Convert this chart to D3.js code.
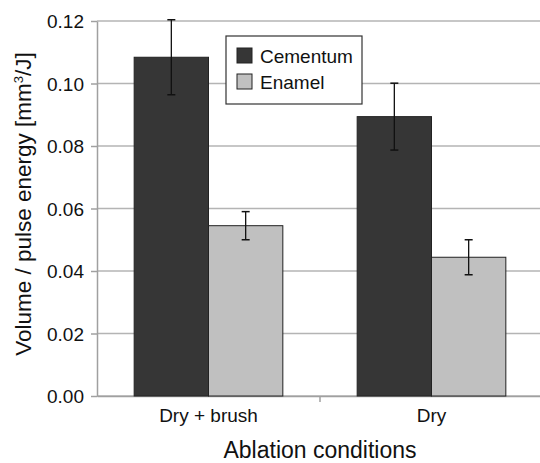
<!DOCTYPE html>
<html>
<head>
<meta charset="utf-8">
<script src="https://cdn.jsdelivr.net/npm/d3@7"></script>
<style>
  body { margin: 0; background: #fff; }
  text { font-family: "Liberation Sans", Arial, sans-serif; fill: #111; }
</style>
</head>
<body>
<div id="canvas"></div>
<script>
const conditions = ["Dry + brush", "Dry"];
const seriesNames = ["Cementum", "Enamel"];
const cementum = [0.1084, 0.0894];
const cementumErr = [0.0120, 0.0107];
const enamel = [0.0545, 0.0444];
const enamelErr = [0.0045, 0.0056];
const yTicks = [0, 0.02, 0.04, 0.06, 0.08, 0.10, 0.12];
const colors = ["#363636", "#c0c0c0"];

const width = 540, height = 463;
const margin = { top: 21, left: 97, bottom: 67, right: -3 };
const iwidth = width - margin.left - margin.right;
const iheight = height - margin.top - margin.bottom;

const svg = d3.select("#canvas").append("svg")
    .attr("width", width)
    .attr("height", height);

const g = svg.append("g").attr("transform", `translate(${margin.left},${margin.top})`);

const y = d3.scaleLinear().domain([0, 0.12]).range([iheight, 0]);
const x = d3.scaleBand().domain(conditions).range([0, iwidth]).paddingInner(0).paddingOuter(0);
const xs = d3.scaleBand().domain(seriesNames).range([x.bandwidth() / 6, x.bandwidth() * 5 / 6]);

// gridlines
g.selectAll(".grid").data(yTicks).enter().append("line")
    .attr("x1", 0).attr("x2", iwidth)
    .attr("y1", d => y(d)).attr("y2", d => y(d))
    .attr("stroke", "#b4b4b4").attr("stroke-width", 1.5);

// y axis
const yAxis = g.append("g")
    .call(d3.axisLeft(y).tickValues(yTicks).tickFormat(d3.format(".2f")).tickSize(6).tickSizeOuter(0))
    .attr("font-size", null).attr("font-family", null);
yAxis.select(".domain").attr("stroke", "#a0a0a0").attr("stroke-width", 1.5);
yAxis.selectAll(".tick line").attr("stroke", "#a0a0a0").attr("stroke-width", 1.5);
yAxis.selectAll(".tick text").attr("x", -13).attr("dy", "0.35em")
    .style("font-size", "19px").attr("fill", "#111");

// x axis
const xAxis = g.append("g").attr("transform", `translate(0,${iheight})`)
    .call(d3.axisBottom(x).tickSize(0).tickSizeOuter(0))
    .attr("font-size", null).attr("font-family", null);
xAxis.select(".domain").attr("stroke", "#a0a0a0").attr("stroke-width", 1.5);
xAxis.selectAll(".tick text").attr("dy", 0).attr("y", 26)
    .style("font-size", "19px").attr("fill", "#111");
g.selectAll(".xsep").data(conditions.slice(1)).enter().append("line")
    .attr("x1", d => x(d)).attr("x2", d => x(d))
    .attr("y1", iheight).attr("y2", iheight + 6)
    .attr("stroke", "#a0a0a0").attr("stroke-width", 1.5);

const rows = conditions.map((c, i) => [
    { cond: c, s: seriesNames[0], v: cementum[i], e: cementumErr[i], col: colors[0] },
    { cond: c, s: seriesNames[1], v: enamel[i], e: enamelErr[i], col: colors[1] }
]).flat();

g.selectAll("rect.bar").data(rows).enter().append("rect")
    .attr("class", "bar")
    .attr("x", d => x(d.cond) + xs(d.s))
    .attr("y", d => y(d.v))
    .attr("width", xs.bandwidth())
    .attr("height", d => iheight - y(d.v))
    .attr("fill", d => d.col)
    .attr("stroke", "#222").attr("stroke-width", 1);

// error bars
const eb = g.selectAll("g.err").data(rows).enter().append("g")
    .attr("transform", d => `translate(${x(d.cond) + xs(d.s) + xs.bandwidth() / 2},0)`);
eb.append("line").attr("y1", d => y(d.v + d.e)).attr("y2", d => y(d.v - d.e))
    .attr("stroke", "#111").attr("stroke-width", 1.3);
eb.append("line").attr("x1", -4).attr("x2", 4).attr("y1", d => y(d.v + d.e)).attr("y2", d => y(d.v + d.e))
    .attr("stroke", "#111").attr("stroke-width", 1.5);
eb.append("line").attr("x1", -4).attr("x2", 4).attr("y1", d => y(d.v - d.e)).attr("y2", d => y(d.v - d.e))
    .attr("stroke", "#111").attr("stroke-width", 1.5);

// legend
const lg = svg.append("g").attr("transform", "translate(226,36)");
lg.append("rect").attr("width", 136).attr("height", 68)
    .attr("fill", "#fff").attr("stroke", "#333").attr("stroke-width", 1.2);
seriesNames.forEach((s, i) => {
    lg.append("rect").attr("x", 11).attr("y", 12 + i * 26).attr("width", 15).attr("height", 15)
        .attr("fill", colors[i]).attr("stroke", "#222");
    lg.append("text").attr("x", 34).attr("y", 27 + i * 26).style("font-size", "19px").text(s);
});

// axis titles
svg.append("text")
    .attr("transform", `translate(31,204) rotate(-90)`)
    .attr("text-anchor", "middle").style("font-size", "22.5px")
    .html('Volume / pulse energy [mm<tspan dy="-8" style="font-size:13px">3</tspan><tspan dy="8">/J]</tspan>');
svg.append("text")
    .attr("x", margin.left + 223).attr("y", 458)
    .attr("text-anchor", "middle").style("font-size", "23px")
    .text("Ablation conditions");
</script>
</body>
</html>
